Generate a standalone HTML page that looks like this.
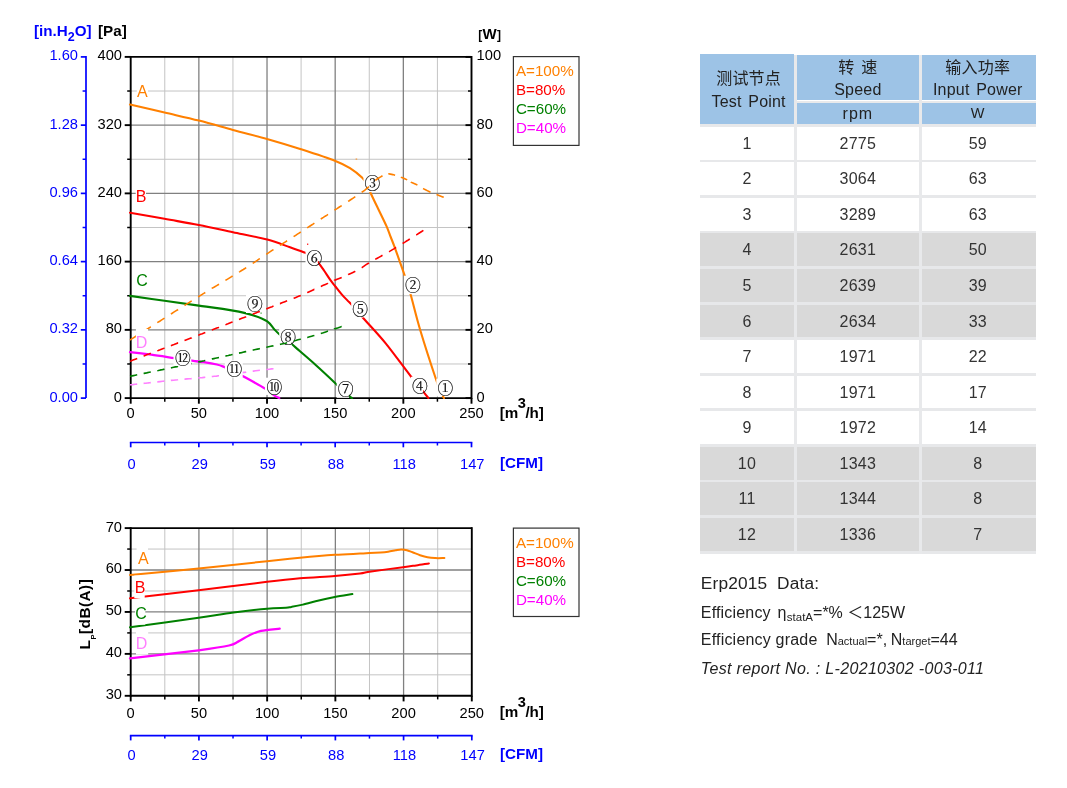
<!DOCTYPE html>
<html lang="zh">
<head>
<meta charset="utf-8">
<title>Performance curves</title>
<style>
html,body{margin:0;padding:0;background:#fff;}
body{width:1067px;height:788px;position:relative;overflow:hidden;font-family:"Liberation Sans","Noto Sans CJK SC",sans-serif;}
svg{position:absolute;left:0;top:0;}
svg text{font-family:"Liberation Sans",sans-serif;}
svg text.cn{font-family:"Liberation Serif","Noto Serif CJK SC",serif;font-size:15.8px;fill:#111;stroke:#111;stroke-width:0.22px;}
.tbl{position:absolute;left:0;top:0;width:1067px;height:788px;color:#333;}
.h{position:absolute;background:#9dc3e6;text-align:center;font-size:16px;line-height:21px;color:#222;letter-spacing:0.2px;word-spacing:2px;}
.r{position:absolute;left:699.8px;width:336.4px;height:32.9px;line-height:33px;font-size:16px;letter-spacing:0.23px;text-align:center;}
.r.g{background:#d9d9d9;}
.r span{position:absolute;top:0;height:100%;}
.c1{left:0;width:94.4px;}
.c2{left:97.2px;width:121.6px;}
.c3{left:221.8px;width:112.4px;}
.hs{position:absolute;left:699.8px;width:336.4px;background:#e7e8ea;height:2.8px;}
.vs{position:absolute;top:55px;height:498.6px;width:2.9px;background:#e8e9eb;}
.erp{position:absolute;left:700.8px;color:#222;white-space:nowrap;font-size:16px;line-height:22px;}
</style>
</head>
<body>
<svg width="640" height="788" viewBox="0 0 640 788">
<line x1="164.78" y1="56.90" x2="164.78" y2="398.10" stroke="#c4c4c4" stroke-width="1"/>
<line x1="232.94" y1="56.90" x2="232.94" y2="398.10" stroke="#c4c4c4" stroke-width="1"/>
<line x1="301.10" y1="56.90" x2="301.10" y2="398.10" stroke="#c4c4c4" stroke-width="1"/>
<line x1="369.26" y1="56.90" x2="369.26" y2="398.10" stroke="#c4c4c4" stroke-width="1"/>
<line x1="437.42" y1="56.90" x2="437.42" y2="398.10" stroke="#c4c4c4" stroke-width="1"/>
<line x1="130.70" y1="91.02" x2="471.50" y2="91.02" stroke="#c4c4c4" stroke-width="1"/>
<line x1="130.70" y1="159.26" x2="471.50" y2="159.26" stroke="#c4c4c4" stroke-width="1"/>
<line x1="130.70" y1="227.50" x2="471.50" y2="227.50" stroke="#c4c4c4" stroke-width="1"/>
<line x1="130.70" y1="295.74" x2="471.50" y2="295.74" stroke="#c4c4c4" stroke-width="1"/>
<line x1="130.70" y1="363.98" x2="471.50" y2="363.98" stroke="#c4c4c4" stroke-width="1"/>
<line x1="198.86" y1="56.90" x2="198.86" y2="398.10" stroke="#808080" stroke-width="1.3"/>
<line x1="267.02" y1="56.90" x2="267.02" y2="398.10" stroke="#808080" stroke-width="1.3"/>
<line x1="335.18" y1="56.90" x2="335.18" y2="398.10" stroke="#808080" stroke-width="1.3"/>
<line x1="403.34" y1="56.90" x2="403.34" y2="398.10" stroke="#808080" stroke-width="1.3"/>
<line x1="130.70" y1="125.14" x2="471.50" y2="125.14" stroke="#808080" stroke-width="1.3"/>
<line x1="130.70" y1="193.38" x2="471.50" y2="193.38" stroke="#808080" stroke-width="1.3"/>
<line x1="130.70" y1="261.62" x2="471.50" y2="261.62" stroke="#808080" stroke-width="1.3"/>
<line x1="130.70" y1="329.86" x2="471.50" y2="329.86" stroke="#808080" stroke-width="1.3"/>
<line x1="130.70" y1="56.90" x2="471.50" y2="56.90" stroke="#000" stroke-width="1.9"/>
<line x1="130.70" y1="398.10" x2="471.50" y2="398.10" stroke="#000" stroke-width="1.9"/>
<line x1="130.70" y1="55.95" x2="130.70" y2="399.05" stroke="#000" stroke-width="1.9"/>
<line x1="471.50" y1="55.95" x2="471.50" y2="399.05" stroke="#000" stroke-width="1.9"/>
<line x1="124.70" y1="56.90" x2="130.70" y2="56.90" stroke="#000" stroke-width="1.9"/>
<line x1="465.50" y1="56.90" x2="471.50" y2="56.90" stroke="#000" stroke-width="1.9"/>
<line x1="127.20" y1="91.02" x2="130.70" y2="91.02" stroke="#000" stroke-width="1.5"/>
<line x1="468.00" y1="91.02" x2="471.50" y2="91.02" stroke="#000" stroke-width="1.5"/>
<line x1="124.70" y1="125.14" x2="130.70" y2="125.14" stroke="#000" stroke-width="1.9"/>
<line x1="465.50" y1="125.14" x2="471.50" y2="125.14" stroke="#000" stroke-width="1.9"/>
<line x1="127.20" y1="159.26" x2="130.70" y2="159.26" stroke="#000" stroke-width="1.5"/>
<line x1="468.00" y1="159.26" x2="471.50" y2="159.26" stroke="#000" stroke-width="1.5"/>
<line x1="124.70" y1="193.38" x2="130.70" y2="193.38" stroke="#000" stroke-width="1.9"/>
<line x1="465.50" y1="193.38" x2="471.50" y2="193.38" stroke="#000" stroke-width="1.9"/>
<line x1="127.20" y1="227.50" x2="130.70" y2="227.50" stroke="#000" stroke-width="1.5"/>
<line x1="468.00" y1="227.50" x2="471.50" y2="227.50" stroke="#000" stroke-width="1.5"/>
<line x1="124.70" y1="261.62" x2="130.70" y2="261.62" stroke="#000" stroke-width="1.9"/>
<line x1="465.50" y1="261.62" x2="471.50" y2="261.62" stroke="#000" stroke-width="1.9"/>
<line x1="127.20" y1="295.74" x2="130.70" y2="295.74" stroke="#000" stroke-width="1.5"/>
<line x1="468.00" y1="295.74" x2="471.50" y2="295.74" stroke="#000" stroke-width="1.5"/>
<line x1="124.70" y1="329.86" x2="130.70" y2="329.86" stroke="#000" stroke-width="1.9"/>
<line x1="465.50" y1="329.86" x2="471.50" y2="329.86" stroke="#000" stroke-width="1.9"/>
<line x1="127.20" y1="363.98" x2="130.70" y2="363.98" stroke="#000" stroke-width="1.5"/>
<line x1="468.00" y1="363.98" x2="471.50" y2="363.98" stroke="#000" stroke-width="1.5"/>
<line x1="124.70" y1="398.10" x2="130.70" y2="398.10" stroke="#000" stroke-width="1.9"/>
<line x1="465.50" y1="398.10" x2="471.50" y2="398.10" stroke="#000" stroke-width="1.9"/>
<line x1="130.70" y1="398.10" x2="130.70" y2="403.70" stroke="#000" stroke-width="1.9"/>
<line x1="164.78" y1="398.10" x2="164.78" y2="401.70" stroke="#000" stroke-width="1.5"/>
<line x1="198.86" y1="398.10" x2="198.86" y2="403.70" stroke="#000" stroke-width="1.9"/>
<line x1="232.94" y1="398.10" x2="232.94" y2="401.70" stroke="#000" stroke-width="1.5"/>
<line x1="267.02" y1="398.10" x2="267.02" y2="403.70" stroke="#000" stroke-width="1.9"/>
<line x1="301.10" y1="398.10" x2="301.10" y2="401.70" stroke="#000" stroke-width="1.5"/>
<line x1="335.18" y1="398.10" x2="335.18" y2="403.70" stroke="#000" stroke-width="1.9"/>
<line x1="369.26" y1="398.10" x2="369.26" y2="401.70" stroke="#000" stroke-width="1.5"/>
<line x1="403.34" y1="398.10" x2="403.34" y2="403.70" stroke="#000" stroke-width="1.9"/>
<line x1="437.42" y1="398.10" x2="437.42" y2="401.70" stroke="#000" stroke-width="1.5"/>
<line x1="471.50" y1="398.10" x2="471.50" y2="403.70" stroke="#000" stroke-width="1.9"/>
<path d="M130.0,104.6 C135.8,105.9 153.0,109.8 164.5,112.5 C176.0,115.2 187.6,117.7 199.0,120.6 C210.4,123.5 221.7,126.9 233.0,130.0 C244.3,133.1 255.7,135.8 267.0,139.0 C278.3,142.2 289.6,145.6 301.0,149.3 C312.4,153.0 327.2,157.8 335.4,161.0 C343.6,164.2 345.6,165.4 350.0,168.2 C354.4,171.0 359.2,174.9 362.0,177.6 C364.8,180.3 365.6,182.0 367.0,184.5 C368.4,187.0 368.6,188.5 370.5,192.7 C372.4,196.9 375.8,203.9 378.5,209.5 C381.2,215.1 384.5,221.6 386.5,226.2 C388.5,230.8 389.3,233.4 390.7,237.0 C392.1,240.6 393.4,243.7 394.9,247.8 C396.4,251.9 398.2,257.1 399.8,261.7 C401.4,266.3 402.9,270.2 404.7,275.7 C406.5,281.2 408.1,285.8 410.7,294.8 C413.3,303.9 415.9,315.7 420.2,330.0 C424.5,344.3 432.9,370.1 436.4,380.5 C439.9,390.9 439.7,389.6 441.0,392.5 C442.3,395.4 443.5,397.1 444.0,398.0" fill="none" stroke="#ff8000" stroke-width="2.1" stroke-linecap="round"/>
<path d="M130.0,212.7 C135.8,213.7 153.0,216.8 164.5,218.8 C176.0,220.9 187.4,222.8 198.8,225.0 C210.2,227.2 221.6,229.8 233.0,232.2 C244.4,234.6 257.8,237.1 267.3,239.6 C276.8,242.1 283.6,245.1 290.0,247.3 C296.4,249.5 301.6,251.1 305.4,252.8 C309.2,254.5 310.9,255.9 313.0,257.5 C315.1,259.1 316.5,260.4 318.3,262.6 C320.1,264.8 322.0,267.6 324.0,270.5 C326.0,273.4 328.2,277.0 330.1,279.7 C332.0,282.4 333.5,284.1 335.4,286.5 C337.3,288.9 339.5,291.8 341.5,294.1 C343.5,296.5 345.9,298.8 347.6,300.6 C349.3,302.4 349.1,301.8 351.8,304.8 C354.5,307.8 357.9,312.0 363.6,318.5 C369.3,325.0 377.9,333.9 385.9,343.6 C393.8,353.4 405.1,369.0 411.3,377.0 C417.5,385.0 420.4,388.1 423.2,391.6 C426.0,395.1 427.5,396.9 428.4,398.0" fill="none" stroke="#ff0000" stroke-width="2.1" stroke-linecap="round"/>
<path d="M130.0,295.9 C135.8,296.7 153.0,299.2 164.5,300.8 C176.0,302.4 187.4,304.0 198.8,305.6 C210.2,307.2 223.9,309.0 233.0,310.6 C242.1,312.2 247.9,313.6 253.6,315.4 C259.3,317.2 263.9,319.1 267.3,321.4 C270.7,323.7 272.0,326.9 274.0,329.0 C276.0,331.1 277.0,332.2 279.3,334.2 C281.6,336.2 285.9,339.4 288.0,341.0 C290.1,342.6 289.7,342.3 291.7,344.0 C293.7,345.7 296.0,347.8 300.0,351.3 C304.0,354.8 309.6,359.5 315.7,365.0 C321.8,370.5 331.1,379.2 336.6,384.4 C342.2,389.5 346.4,393.6 349.0,395.9 C351.6,398.2 351.5,397.6 352.0,398.0" fill="none" stroke="#008000" stroke-width="2.1" stroke-linecap="round"/>
<path d="M130.0,352.1 C133.5,352.5 143.7,353.7 151.2,354.7 C158.7,355.7 168.1,357.2 174.9,358.2 C181.7,359.2 187.1,359.9 191.9,360.6 C196.7,361.3 199.5,361.6 203.7,362.2 C207.9,362.8 213.4,363.7 216.9,364.5 C220.4,365.3 222.0,366.1 224.7,367.2 C227.4,368.3 229.9,369.5 233.0,371.0 C236.1,372.5 237.8,373.4 243.1,376.3 C248.4,379.2 259.7,385.3 265.0,388.6 C270.3,391.9 272.6,394.3 275.0,395.9 C277.4,397.5 278.6,397.6 279.3,398.0" fill="none" stroke="#ff00ff" stroke-width="2.3" stroke-linecap="round"/>
<rect x="355.6" y="158.6" width="1.6" height="0.9" fill="#ff8000"/>
<rect x="307" y="243.6" width="1.3" height="1.2" fill="#ff0000"/>
<rect x="260.5" y="312.6" width="1.2" height="1" fill="#008000"/>
<rect x="436.3" y="378.6" width="12.3" height="17.3" fill="#fff"/>
<text class="cn" x="445.3" y="393.9" text-anchor="middle">①</text>
<rect x="403.9" y="275.7" width="12.3" height="18.4" fill="#fff"/>
<text class="cn" x="412.9" y="291.0" text-anchor="middle">②</text>
<rect x="363.5" y="173.7" width="12.3" height="18.4" fill="#fff"/>
<text class="cn" x="372.5" y="189.0" text-anchor="middle">③</text>
<rect x="410.8" y="376.8" width="12.3" height="18.4" fill="#fff"/>
<text class="cn" x="419.8" y="392.1" text-anchor="middle">④</text>
<rect x="351.2" y="299.2" width="12.3" height="18.4" fill="#fff"/>
<text class="cn" x="360.2" y="314.5" text-anchor="middle">⑤</text>
<rect x="305.5" y="248.2" width="12.3" height="18.4" fill="#fff"/>
<text class="cn" x="314.5" y="263.5" text-anchor="middle">⑥</text>
<rect x="336.7" y="379.4" width="12.3" height="18.4" fill="#fff"/>
<text class="cn" x="345.7" y="394.7" text-anchor="middle">⑦</text>
<rect x="279.2" y="328.0" width="12.3" height="18.4" fill="#fff"/>
<text class="cn" x="288.2" y="343.3" text-anchor="middle">⑧</text>
<rect x="246.0" y="294.6" width="12.3" height="18.4" fill="#fff"/>
<text class="cn" x="255.0" y="309.9" text-anchor="middle">⑨</text>
<path d="M130.0,384.9 L130.6,384.8 L132.7,384.6 L135.2,384.3 L137.2,384.1M143.6,383.4 L144.8,383.3 L146.0,383.2 L147.2,383.0 L148.4,382.9 L149.7,382.7 L150.8,382.6M157.3,381.9 L157.4,381.9 L160.0,381.6 L162.6,381.3 L164.5,381.1M170.9,380.5 L171.2,380.4 L173.4,380.2 L175.6,380.0 L177.7,379.8 L178.1,379.7M184.5,379.1 L185.0,379.1 L187.1,378.9 L189.1,378.7 L191.2,378.6 L191.7,378.5M198.2,377.9 L198.3,377.9 L200.3,377.7 L202.3,377.6 L204.3,377.4 L205.3,377.3M211.8,376.6 L212.4,376.5 L214.5,376.3 L216.5,376.1 L218.6,375.8 L219.0,375.8M225.4,375.0 L226.3,374.9 L228.5,374.6 L230.8,374.3 L232.6,374.0M239.0,373.1 L239.6,373.0 L241.8,372.7 L243.9,372.4 L245.9,372.2 L246.2,372.1M252.7,371.2 L253.3,371.1 L255.7,370.8 L257.9,370.5 L259.9,370.3M266.3,369.5 L266.7,369.5 L269.3,369.2 L271.5,368.9 L273.3,368.7 L273.5,368.7" fill="none" stroke="#ff80ff" stroke-width="1.6"/>
<path d="M130.0,376.3 L130.6,376.2 L132.0,375.9 L133.5,375.6 L135.3,375.2 L137.2,374.8M143.6,373.5 L144.1,373.4 L146.6,372.9 L149.2,372.3 L150.8,372.0M157.3,370.7 L158.3,370.5 L159.6,370.2 L160.9,369.9 L162.2,369.7 L163.5,369.4 L164.5,369.2M170.9,367.9 L171.6,367.7 L173.6,367.3 L175.4,366.9 L177.1,366.6 L178.1,366.3M184.5,365.0 L184.7,365.0 L187.0,364.5 L189.4,364.0 L191.7,363.4M198.2,362.1 L198.4,362.0 L200.1,361.6 L202.0,361.2 L204.0,360.8 L205.3,360.5M211.8,359.1 L212.5,358.9 L213.9,358.6 L215.2,358.3 L216.6,358.0 L218.0,357.7 L219.0,357.5M225.4,356.1 L226.8,355.8 L228.3,355.5 L229.8,355.1 L231.3,354.8 L232.6,354.5M239.0,353.1 L240.1,352.9 L241.6,352.6 L243.0,352.2 L244.4,351.9 L245.7,351.6 L246.2,351.5M252.7,350.1 L253.3,350.0 L255.5,349.5 L257.5,349.1 L259.4,348.7 L259.9,348.6M266.3,347.2 L266.4,347.2 L268.6,346.7 L270.8,346.3 L272.8,345.9 L273.5,345.7M279.9,344.4 L280.4,344.3 L283.0,343.7 L285.4,343.2 L287.1,342.8M293.6,341.0 L293.7,341.0 L295.6,340.5 L298.0,339.8 L300.4,339.2 L300.8,339.1M307.2,337.4 L307.4,337.4 L309.6,336.8 L311.7,336.2 L313.8,335.6 L314.4,335.4M320.8,333.4 L320.8,333.4 L323.3,332.7 L325.7,331.9 L328.0,331.1M334.5,329.0 L334.5,328.9 L338.3,327.7 L340.5,326.9 L341.6,326.6 L341.7,326.6" fill="none" stroke="#008000" stroke-width="1.6"/>
<path d="M130.0,361.2 L130.9,360.9 L133.0,360.1 L135.3,359.2 L137.2,358.5M143.6,356.0 L144.0,355.9 L145.6,355.3 L147.3,354.6 L149.0,354.0 L150.8,353.3 L150.8,353.3M157.3,350.8 L158.2,350.5 L160.1,349.8 L162.1,349.0 L164.0,348.3 L164.5,348.1M170.9,345.7 L172.0,345.2 L174.0,344.5 L176.0,343.7 L178.0,342.9 L178.1,342.9M184.5,340.5 L185.9,339.9 L187.8,339.2 L189.7,338.5 L191.6,337.8 L191.7,337.7M198.2,335.2 L198.8,335.0 L200.5,334.3 L202.3,333.7 L204.0,333.0 L205.3,332.5M211.8,330.0 L213.1,329.5 L214.9,328.8 L216.8,328.1 L218.6,327.4 L219.0,327.2M225.4,324.7 L226.1,324.5 L227.9,323.8 L229.8,323.0 L231.6,322.3 L232.6,322.0M239.0,319.5 L240.7,318.8 L242.5,318.1 L244.2,317.4 L246.0,316.8 L246.2,316.7M252.7,314.2 L252.7,314.2 L254.3,313.5 L255.9,312.9 L257.4,312.3 L259.0,311.7 L259.9,311.4M266.3,308.9 L267.3,308.5 L269.8,307.5 L272.1,306.7 L273.5,306.1M279.9,303.6 L280.0,303.6 L282.6,302.6 L284.9,301.7 L287.1,300.8M293.6,298.3 L293.9,298.2 L295.9,297.4 L297.9,296.6 L300.0,295.7 L300.8,295.4M307.2,292.6 L307.6,292.4 L309.8,291.4 L312.0,290.4 L314.2,289.4 L314.4,289.4M320.8,286.4 L321.3,286.2 L323.3,285.3 L325.4,284.4 L327.7,283.4 L328.0,283.2M334.5,280.5 L334.5,280.4 L337.1,279.3 L339.8,278.2 L341.7,277.4M348.1,274.6 L348.4,274.4 L350.7,273.4 L352.9,272.4 L354.8,271.5 L355.3,271.2M361.7,267.7 L361.9,267.6 L363.7,266.3 L365.7,264.9 L368.8,263.0 L368.9,262.9M375.3,259.3 L375.4,259.3 L377.3,258.2 L379.3,257.1 L381.3,256.0 L382.5,255.3M389.0,251.7 L389.6,251.4 L391.7,250.1 L393.8,248.9 L395.9,247.6 L396.2,247.5M402.6,243.5 L403.1,243.2 L404.9,242.1 L406.6,241.0 L408.3,240.0 L409.8,239.0M416.2,234.9 L416.5,234.8 L419.3,233.0 L421.7,231.5 L423.4,230.4" fill="none" stroke="#ff0000" stroke-width="1.6"/>
<path d="M130.0,340.0 L130.9,339.4 L133.0,338.1 L135.5,336.5 L137.2,335.4M143.6,331.4 L144.6,330.7 L146.4,329.6 L148.2,328.5 L150.0,327.3 L150.8,326.8M157.3,322.7 L157.7,322.4 L159.7,321.2 L161.7,319.9 L163.7,318.6 L164.5,318.1M170.9,314.1 L171.8,313.5 L173.8,312.2 L175.8,310.9 L177.8,309.7 L178.1,309.5M184.5,305.5 L185.5,304.8 L187.4,303.6 L189.2,302.5 L190.9,301.4 L191.7,300.9M198.2,296.9 L198.8,296.5 L200.2,295.6 L201.6,294.8 L202.9,293.9 L204.3,293.1 L205.3,292.5M211.8,288.5 L211.9,288.4 L214.4,287.0 L216.7,285.6 L219.0,284.2M225.4,280.4 L225.5,280.3 L227.6,279.1 L229.6,277.9 L231.6,276.7 L232.6,276.0M239.0,272.1 L239.9,271.6 L241.6,270.5 L243.3,269.5 L244.9,268.5 L246.2,267.6M252.7,263.4 L252.8,263.3 L255.0,261.8 L257.2,260.4 L259.3,258.9 L259.9,258.6M266.3,254.3 L266.6,254.1 L268.8,252.7 L271.0,251.2 L273.3,249.7 L273.5,249.6M279.9,245.4 L280.5,245.1 L282.2,244.0 L283.8,242.9 L285.5,241.8 L287.1,240.8M293.6,236.7 L294.0,236.4 L295.7,235.3 L297.4,234.2 L299.1,233.1 L300.8,232.0M307.2,227.9 L307.9,227.4 L309.7,226.2 L311.6,225.0 L313.4,223.9 L314.4,223.2M320.8,219.1 L321.6,218.5 L323.4,217.4 L325.2,216.2 L327.0,215.1 L328.0,214.4M334.5,210.2 L334.6,210.1 L337.0,208.6 L339.4,207.0 L341.7,205.6M348.1,201.4 L348.8,201.0 L351.0,199.5 L353.2,198.1 L355.3,196.7 L355.3,196.7M361.7,192.4 L362.0,192.1 L364.6,190.3 L366.6,188.6 L368.4,187.1 L368.9,186.6M375.3,180.3 L375.5,180.2 L378.3,178.3 L380.7,176.9 L382.5,175.8M388.3,173.7 L388.4,173.7 L390.4,174.1 L392.8,174.6 L395.1,175.2M400.9,177.1 L401.1,177.2 L403.2,178.0 L405.3,179.0 L407.2,179.9M410.8,182.1 L410.9,182.2 L412.9,183.1 L415.2,184.1 L417.4,185.1 L417.4,185.1M423.0,188.5 L423.2,188.6 L425.5,189.8 L428.1,191.1 L430.5,192.2M436.5,194.5 L436.7,194.6 L439.0,195.5 L441.5,196.5 L443.5,197.3 L443.7,197.4" fill="none" stroke="#ff8000" stroke-width="1.6"/>
<rect x="264.9" y="377.7" width="17.8" height="17.2" fill="#fff"/>
<text class="cn" x="274.4" y="392.7" text-anchor="middle">⑩</text>
<rect x="224.9" y="360.3" width="17.8" height="17.2" fill="#fff"/>
<text class="cn" x="234.4" y="375.3" text-anchor="middle">⑪</text>
<rect x="173.5" y="348.8" width="17.8" height="17.2" fill="#fff"/>
<text class="cn" x="183.0" y="363.8" text-anchor="middle">⑫</text>
<rect x="136.8" y="79.8" width="11.2" height="22.5" fill="#fff"/>
<text x="137.10" y="96.80" font-size="16" fill="#ff8000">A</text>
<rect x="135.7" y="185.0" width="10.3" height="22.5" fill="#fff"/>
<text x="135.80" y="202.00" font-size="16" fill="#ff0000">B</text>
<rect x="135.8" y="268.8" width="11.2" height="22.5" fill="#fff"/>
<text x="136.20" y="285.80" font-size="16" fill="#008000">C</text>
<rect x="135.9" y="329.0" width="12.2" height="21.8" fill="#fff"/>
<text x="135.80" y="347.90" font-size="16" fill="#ff80ff">D</text>
<text x="122.00" y="60.30" font-size="14.67" text-anchor="end">400</text>
<text x="476.60" y="60.30" font-size="14.67">100</text>
<text x="122.00" y="128.54" font-size="14.67" text-anchor="end">320</text>
<text x="476.60" y="128.54" font-size="14.67">80</text>
<text x="122.00" y="196.78" font-size="14.67" text-anchor="end">240</text>
<text x="476.60" y="196.78" font-size="14.67">60</text>
<text x="122.00" y="265.02" font-size="14.67" text-anchor="end">160</text>
<text x="476.60" y="265.02" font-size="14.67">40</text>
<text x="122.00" y="333.26" font-size="14.67" text-anchor="end">80</text>
<text x="476.60" y="333.26" font-size="14.67">20</text>
<text x="122.00" y="401.50" font-size="14.67" text-anchor="end">0</text>
<text x="476.60" y="401.50" font-size="14.67">0</text>
<text x="130.70" y="418.20" font-size="14.67" text-anchor="middle">0</text>
<text x="198.86" y="418.20" font-size="14.67" text-anchor="middle">50</text>
<text x="267.02" y="418.20" font-size="14.67" text-anchor="middle">100</text>
<text x="335.18" y="418.20" font-size="14.67" text-anchor="middle">150</text>
<text x="403.34" y="418.20" font-size="14.67" text-anchor="middle">200</text>
<text x="471.50" y="418.20" font-size="14.67" text-anchor="middle">250</text>
<text x="499.80" y="418.00" font-size="15.2" font-weight="bold">[m<tspan dy="-10.1" dx="-0.6" font-size="14.6">3</tspan><tspan dy="10.1" dx="-0.5">/h]</tspan></text>
<text x="98.00" y="35.80" font-size="15.2" font-weight="bold">[Pa]</text>
<text x="478.3" y="38.9" font-size="12" font-weight="bold">[<tspan font-size="15" dx="0.2">W</tspan><tspan dx="0.4">]</tspan></text>
<text x="34.00" y="35.80" font-size="15.2" fill="#0000ff" font-weight="bold">[in.H<tspan dy="5.2" font-size="12.5">2</tspan><tspan dy="-5.2">O]</tspan></text>
<line x1="86.00" y1="56.05" x2="86.00" y2="398.10" stroke="#0000ff" stroke-width="1.7"/>
<line x1="80.80" y1="56.90" x2="86.00" y2="56.90" stroke="#0000ff" stroke-width="1.7"/>
<line x1="82.60" y1="91.02" x2="86.00" y2="91.02" stroke="#0000ff" stroke-width="1.5"/>
<line x1="80.80" y1="125.14" x2="86.00" y2="125.14" stroke="#0000ff" stroke-width="1.7"/>
<line x1="82.60" y1="159.26" x2="86.00" y2="159.26" stroke="#0000ff" stroke-width="1.5"/>
<line x1="80.80" y1="193.38" x2="86.00" y2="193.38" stroke="#0000ff" stroke-width="1.7"/>
<line x1="82.60" y1="227.50" x2="86.00" y2="227.50" stroke="#0000ff" stroke-width="1.5"/>
<line x1="80.80" y1="261.62" x2="86.00" y2="261.62" stroke="#0000ff" stroke-width="1.7"/>
<line x1="82.60" y1="295.74" x2="86.00" y2="295.74" stroke="#0000ff" stroke-width="1.5"/>
<line x1="80.80" y1="329.86" x2="86.00" y2="329.86" stroke="#0000ff" stroke-width="1.7"/>
<line x1="82.60" y1="363.98" x2="86.00" y2="363.98" stroke="#0000ff" stroke-width="1.5"/>
<line x1="80.80" y1="398.10" x2="86.00" y2="398.10" stroke="#0000ff" stroke-width="1.7"/>
<text x="78.00" y="60.30" font-size="14.67" fill="#0000ff" text-anchor="end">1.60</text>
<text x="78.00" y="128.54" font-size="14.67" fill="#0000ff" text-anchor="end">1.28</text>
<text x="78.00" y="196.78" font-size="14.67" fill="#0000ff" text-anchor="end">0.96</text>
<text x="78.00" y="265.02" font-size="14.67" fill="#0000ff" text-anchor="end">0.64</text>
<text x="78.00" y="333.26" font-size="14.67" fill="#0000ff" text-anchor="end">0.32</text>
<text x="78.00" y="401.50" font-size="14.67" fill="#0000ff" text-anchor="end">0.00</text>
<line x1="129.85" y1="442.50" x2="472.35" y2="442.50" stroke="#0000ff" stroke-width="1.7"/>
<line x1="130.70" y1="442.50" x2="130.70" y2="447.30" stroke="#0000ff" stroke-width="1.7"/>
<line x1="164.78" y1="442.50" x2="164.78" y2="445.50" stroke="#0000ff" stroke-width="1.5"/>
<line x1="198.86" y1="442.50" x2="198.86" y2="447.30" stroke="#0000ff" stroke-width="1.7"/>
<line x1="232.94" y1="442.50" x2="232.94" y2="445.50" stroke="#0000ff" stroke-width="1.5"/>
<line x1="267.02" y1="442.50" x2="267.02" y2="447.30" stroke="#0000ff" stroke-width="1.7"/>
<line x1="301.10" y1="442.50" x2="301.10" y2="445.50" stroke="#0000ff" stroke-width="1.5"/>
<line x1="335.18" y1="442.50" x2="335.18" y2="447.30" stroke="#0000ff" stroke-width="1.7"/>
<line x1="369.26" y1="442.50" x2="369.26" y2="445.50" stroke="#0000ff" stroke-width="1.5"/>
<line x1="403.34" y1="442.50" x2="403.34" y2="447.30" stroke="#0000ff" stroke-width="1.7"/>
<line x1="437.42" y1="442.50" x2="437.42" y2="445.50" stroke="#0000ff" stroke-width="1.5"/>
<line x1="471.50" y1="442.50" x2="471.50" y2="447.30" stroke="#0000ff" stroke-width="1.7"/>
<text x="131.50" y="469.00" font-size="14.67" fill="#0000ff" text-anchor="middle">0</text>
<text x="199.66" y="469.00" font-size="14.67" fill="#0000ff" text-anchor="middle">29</text>
<text x="267.82" y="469.00" font-size="14.67" fill="#0000ff" text-anchor="middle">59</text>
<text x="335.98" y="469.00" font-size="14.67" fill="#0000ff" text-anchor="middle">88</text>
<text x="404.14" y="469.00" font-size="14.67" fill="#0000ff" text-anchor="middle">118</text>
<text x="472.30" y="469.00" font-size="14.67" fill="#0000ff" text-anchor="middle">147</text>
<text x="500.00" y="468.00" font-size="15.2" fill="#0000ff" font-weight="bold">[CFM]</text>
<rect x="513.4" y="56.6" width="65.6" height="88.8" fill="#fff" stroke="#333" stroke-width="1.2"/>
<text x="515.90" y="76.20" font-size="15.2" fill="#ff8000">A=100%</text>
<text x="515.90" y="95.15" font-size="15.2" fill="#ff0000">B=80%</text>
<text x="515.90" y="114.10" font-size="15.2" fill="#008000">C=60%</text>
<text x="515.90" y="133.05" font-size="15.2" fill="#ff00ff">D=40%</text>
<line x1="164.81" y1="528.10" x2="164.81" y2="695.80" stroke="#c4c4c4" stroke-width="1"/>
<line x1="233.03" y1="528.10" x2="233.03" y2="695.80" stroke="#c4c4c4" stroke-width="1"/>
<line x1="301.25" y1="528.10" x2="301.25" y2="695.80" stroke="#c4c4c4" stroke-width="1"/>
<line x1="369.47" y1="528.10" x2="369.47" y2="695.80" stroke="#c4c4c4" stroke-width="1"/>
<line x1="437.69" y1="528.10" x2="437.69" y2="695.80" stroke="#c4c4c4" stroke-width="1"/>
<line x1="130.70" y1="549.06" x2="471.80" y2="549.06" stroke="#c4c4c4" stroke-width="1"/>
<line x1="130.70" y1="590.99" x2="471.80" y2="590.99" stroke="#c4c4c4" stroke-width="1"/>
<line x1="130.70" y1="632.91" x2="471.80" y2="632.91" stroke="#c4c4c4" stroke-width="1"/>
<line x1="130.70" y1="674.84" x2="471.80" y2="674.84" stroke="#c4c4c4" stroke-width="1"/>
<line x1="198.92" y1="528.10" x2="198.92" y2="695.80" stroke="#808080" stroke-width="1.3"/>
<line x1="267.14" y1="528.10" x2="267.14" y2="695.80" stroke="#808080" stroke-width="1.3"/>
<line x1="335.36" y1="528.10" x2="335.36" y2="695.80" stroke="#808080" stroke-width="1.3"/>
<line x1="403.58" y1="528.10" x2="403.58" y2="695.80" stroke="#808080" stroke-width="1.3"/>
<line x1="130.70" y1="570.02" x2="471.80" y2="570.02" stroke="#808080" stroke-width="1.3"/>
<line x1="130.70" y1="611.95" x2="471.80" y2="611.95" stroke="#808080" stroke-width="1.3"/>
<line x1="130.70" y1="653.88" x2="471.80" y2="653.88" stroke="#808080" stroke-width="1.3"/>
<line x1="130.70" y1="528.10" x2="471.80" y2="528.10" stroke="#000" stroke-width="1.9"/>
<line x1="130.70" y1="695.80" x2="471.80" y2="695.80" stroke="#000" stroke-width="1.9"/>
<line x1="130.70" y1="527.15" x2="130.70" y2="696.75" stroke="#000" stroke-width="1.9"/>
<line x1="471.80" y1="527.15" x2="471.80" y2="696.75" stroke="#000" stroke-width="1.9"/>
<line x1="124.70" y1="528.10" x2="130.70" y2="528.10" stroke="#000" stroke-width="1.9"/>
<line x1="127.20" y1="549.06" x2="130.70" y2="549.06" stroke="#000" stroke-width="1.5"/>
<line x1="124.70" y1="570.02" x2="130.70" y2="570.02" stroke="#000" stroke-width="1.9"/>
<line x1="127.20" y1="590.99" x2="130.70" y2="590.99" stroke="#000" stroke-width="1.5"/>
<line x1="124.70" y1="611.95" x2="130.70" y2="611.95" stroke="#000" stroke-width="1.9"/>
<line x1="127.20" y1="632.91" x2="130.70" y2="632.91" stroke="#000" stroke-width="1.5"/>
<line x1="124.70" y1="653.88" x2="130.70" y2="653.88" stroke="#000" stroke-width="1.9"/>
<line x1="127.20" y1="674.84" x2="130.70" y2="674.84" stroke="#000" stroke-width="1.5"/>
<line x1="124.70" y1="695.80" x2="130.70" y2="695.80" stroke="#000" stroke-width="1.9"/>
<line x1="130.70" y1="695.80" x2="130.70" y2="701.40" stroke="#000" stroke-width="1.9"/>
<line x1="164.81" y1="695.80" x2="164.81" y2="699.40" stroke="#000" stroke-width="1.5"/>
<line x1="198.92" y1="695.80" x2="198.92" y2="701.40" stroke="#000" stroke-width="1.9"/>
<line x1="233.03" y1="695.80" x2="233.03" y2="699.40" stroke="#000" stroke-width="1.5"/>
<line x1="267.14" y1="695.80" x2="267.14" y2="701.40" stroke="#000" stroke-width="1.9"/>
<line x1="301.25" y1="695.80" x2="301.25" y2="699.40" stroke="#000" stroke-width="1.5"/>
<line x1="335.36" y1="695.80" x2="335.36" y2="701.40" stroke="#000" stroke-width="1.9"/>
<line x1="369.47" y1="695.80" x2="369.47" y2="699.40" stroke="#000" stroke-width="1.5"/>
<line x1="403.58" y1="695.80" x2="403.58" y2="701.40" stroke="#000" stroke-width="1.9"/>
<line x1="437.69" y1="695.80" x2="437.69" y2="699.40" stroke="#000" stroke-width="1.5"/>
<line x1="471.80" y1="695.80" x2="471.80" y2="701.40" stroke="#000" stroke-width="1.9"/>
<path d="M130.0,575.0 C141.4,573.9 175.8,570.8 198.6,568.5 C221.4,566.2 250.2,563.0 267.1,561.2 C284.0,559.4 288.7,558.9 300.0,557.8 C311.3,556.7 324.8,555.5 334.8,554.8 C344.8,554.1 354.2,553.9 360.0,553.6 C365.8,553.3 366.0,553.1 369.4,552.9 C372.8,552.7 377.5,552.7 380.6,552.5 C383.7,552.3 385.6,552.1 388.1,551.7 C390.6,551.3 393.4,550.7 395.6,550.3 C397.8,549.9 399.3,549.5 401.2,549.5 C403.1,549.5 405.0,549.7 406.9,550.2 C408.8,550.7 410.3,551.5 412.5,552.3 C414.7,553.1 417.5,554.4 420.0,555.2 C422.5,556.0 425.0,556.8 427.5,557.3 C430.0,557.8 432.2,558.0 435.0,558.1 C437.8,558.2 442.8,558.1 444.4,558.1" fill="none" stroke="#ff8000" stroke-width="2.0" stroke-linecap="round"/>
<path d="M130.0,598.3 C141.4,596.9 175.8,593.0 198.6,590.2 C221.4,587.5 250.2,583.8 267.1,581.8 C284.0,579.8 288.7,579.3 300.0,578.3 C311.3,577.3 324.8,576.8 334.8,576.0 C344.8,575.2 354.2,574.2 360.0,573.5 C365.8,572.8 362.2,572.8 369.4,571.7 C376.6,570.7 395.3,568.2 403.1,567.2 C410.9,566.2 411.9,566.0 416.2,565.4 C420.5,564.8 426.8,563.7 428.9,563.4" fill="none" stroke="#ff0000" stroke-width="2.0" stroke-linecap="round"/>
<path d="M130.0,627.3 C141.4,625.7 181.3,620.2 198.6,617.8 C215.9,615.3 222.2,614.1 233.6,612.6 C245.0,611.1 258.4,609.5 267.1,608.7 C275.8,607.9 281.9,608.1 286.0,607.8 C290.1,607.5 288.6,607.4 291.4,606.9 C294.2,606.4 298.2,605.7 302.8,604.6 C307.4,603.5 313.5,601.8 318.8,600.5 C324.1,599.2 329.2,598.1 334.8,597.0 C340.4,595.9 349.5,594.6 352.4,594.1" fill="none" stroke="#008000" stroke-width="2.0" stroke-linecap="round"/>
<path d="M130.0,658.4 C141.4,657.0 182.1,652.4 198.6,650.3 C215.1,648.1 222.4,647.0 229.0,645.5 C235.6,644.0 234.7,643.3 238.1,641.6 C241.5,639.9 245.7,637.0 249.5,635.2 C253.3,633.4 256.0,632.0 261.0,630.9 C266.0,629.8 276.6,629.0 279.7,628.6" fill="none" stroke="#ff00ff" stroke-width="2.3" stroke-linecap="round"/>
<rect x="136.6" y="546.5" width="11.4" height="22.5" fill="#fff"/>
<text x="137.90" y="563.50" font-size="16" fill="#ff8000">A</text>
<rect x="134.3" y="575.6" width="10.4" height="22.5" fill="#fff"/>
<text x="134.80" y="592.60" font-size="16" fill="#ff0000">B</text>
<rect x="135.1" y="602.2" width="10.2" height="22.5" fill="#fff"/>
<text x="135.20" y="619.20" font-size="16" fill="#008000">C</text>
<rect x="136.0" y="631.8" width="12.2" height="22.8" fill="#fff"/>
<text x="135.70" y="648.70" font-size="16" fill="#ff80ff">D</text>
<text x="122.00" y="531.50" font-size="14.67" text-anchor="end">70</text>
<text x="122.00" y="573.42" font-size="14.67" text-anchor="end">60</text>
<text x="122.00" y="615.35" font-size="14.67" text-anchor="end">50</text>
<text x="122.00" y="657.27" font-size="14.67" text-anchor="end">40</text>
<text x="122.00" y="699.20" font-size="14.67" text-anchor="end">30</text>
<text x="130.70" y="717.50" font-size="14.67" text-anchor="middle">0</text>
<text x="198.92" y="717.50" font-size="14.67" text-anchor="middle">50</text>
<text x="267.14" y="717.50" font-size="14.67" text-anchor="middle">100</text>
<text x="335.36" y="717.50" font-size="14.67" text-anchor="middle">150</text>
<text x="403.58" y="717.50" font-size="14.67" text-anchor="middle">200</text>
<text x="471.80" y="717.50" font-size="14.67" text-anchor="middle">250</text>
<text x="499.80" y="717.20" font-size="15.2" font-weight="bold">[m<tspan dy="-10.1" dx="-0.6" font-size="14.6">3</tspan><tspan dy="10.1" dx="-0.5">/h]</tspan></text>
<line x1="129.85" y1="735.60" x2="472.65" y2="735.60" stroke="#0000ff" stroke-width="1.7"/>
<line x1="130.70" y1="735.60" x2="130.70" y2="740.40" stroke="#0000ff" stroke-width="1.7"/>
<line x1="164.81" y1="735.60" x2="164.81" y2="738.60" stroke="#0000ff" stroke-width="1.5"/>
<line x1="198.92" y1="735.60" x2="198.92" y2="740.40" stroke="#0000ff" stroke-width="1.7"/>
<line x1="233.03" y1="735.60" x2="233.03" y2="738.60" stroke="#0000ff" stroke-width="1.5"/>
<line x1="267.14" y1="735.60" x2="267.14" y2="740.40" stroke="#0000ff" stroke-width="1.7"/>
<line x1="301.25" y1="735.60" x2="301.25" y2="738.60" stroke="#0000ff" stroke-width="1.5"/>
<line x1="335.36" y1="735.60" x2="335.36" y2="740.40" stroke="#0000ff" stroke-width="1.7"/>
<line x1="369.47" y1="735.60" x2="369.47" y2="738.60" stroke="#0000ff" stroke-width="1.5"/>
<line x1="403.58" y1="735.60" x2="403.58" y2="740.40" stroke="#0000ff" stroke-width="1.7"/>
<line x1="437.69" y1="735.60" x2="437.69" y2="738.60" stroke="#0000ff" stroke-width="1.5"/>
<line x1="471.80" y1="735.60" x2="471.80" y2="740.40" stroke="#0000ff" stroke-width="1.7"/>
<text x="131.50" y="759.60" font-size="14.67" fill="#0000ff" text-anchor="middle">0</text>
<text x="199.72" y="759.60" font-size="14.67" fill="#0000ff" text-anchor="middle">29</text>
<text x="267.94" y="759.60" font-size="14.67" fill="#0000ff" text-anchor="middle">59</text>
<text x="336.16" y="759.60" font-size="14.67" fill="#0000ff" text-anchor="middle">88</text>
<text x="404.38" y="759.60" font-size="14.67" fill="#0000ff" text-anchor="middle">118</text>
<text x="472.60" y="759.60" font-size="14.67" fill="#0000ff" text-anchor="middle">147</text>
<text x="500.00" y="758.60" font-size="15.2" fill="#0000ff" font-weight="bold">[CFM]</text>
<rect x="513.4" y="528.1" width="65.6" height="88.4" fill="#fff" stroke="#333" stroke-width="1.2"/>
<text x="515.90" y="547.70" font-size="15.2" fill="#ff8000">A=100%</text>
<text x="515.90" y="566.65" font-size="15.2" fill="#ff0000">B=80%</text>
<text x="515.90" y="585.60" font-size="15.2" fill="#008000">C=60%</text>
<text x="515.90" y="604.55" font-size="15.2" fill="#ff00ff">D=40%</text>
<text transform="translate(89.8,649.4) rotate(-90)" font-size="15.4" letter-spacing="0.45" font-weight="bold">L<tspan dy="6" font-size="7.6">P</tspan><tspan dy="-6">[dB(A)]</tspan></text>
</svg>
<div class="tbl">
<div class="h" style="left:699.8px;top:54.1px;width:94.3px;height:69.7px;"><div style="margin-top:14.3px;position:relative;left:1.7px;line-height:22.2px">测试节点<br>Test Point</div></div>
<div class="h" style="left:797.1px;top:55.3px;width:121.6px;height:45px;"><div style="margin-top:1.8px;line-height:21.7px">转 速<br>Speed</div></div>
<div class="h" style="left:921.7px;top:55.3px;width:114.5px;height:45px;"><div style="margin-top:1.8px;line-height:21.7px;position:relative;left:-1.2px">输入功率<br>Input Power</div></div>
<div class="hs" style="top:100.5px;left:797.1px;width:239.1px;background:#e8e9eb"></div>
<div class="h" style="left:797.1px;top:103.1px;width:121.6px;height:20.7px;"><div style="margin-top:-0.2px;letter-spacing:1px">rpm</div></div>
<div class="h" style="left:921.7px;top:103.1px;width:114.5px;height:20.7px;"><div style="margin-top:-0.2px;position:relative;left:-1.2px;font-size:14.5px">W</div></div>
<div class="r" style="top:126.80px"><span class="c1">1</span><span class="c2">2775</span><span class="c3">59</span></div>
<div class="r" style="top:162.36px"><span class="c1">2</span><span class="c2">3064</span><span class="c3">63</span></div>
<div class="r" style="top:197.92px"><span class="c1">3</span><span class="c2">3289</span><span class="c3">63</span></div>
<div class="r g" style="top:233.48px"><span class="c1">4</span><span class="c2">2631</span><span class="c3">50</span></div>
<div class="r g" style="top:269.04px"><span class="c1">5</span><span class="c2">2639</span><span class="c3">39</span></div>
<div class="r g" style="top:304.60px"><span class="c1">6</span><span class="c2">2634</span><span class="c3">33</span></div>
<div class="r" style="top:340.16px"><span class="c1">7</span><span class="c2">1971</span><span class="c3">22</span></div>
<div class="r" style="top:375.72px"><span class="c1">8</span><span class="c2">1971</span><span class="c3">17</span></div>
<div class="r" style="top:411.28px"><span class="c1">9</span><span class="c2">1972</span><span class="c3">14</span></div>
<div class="r g" style="top:446.84px"><span class="c1">10</span><span class="c2">1343</span><span class="c3">8</span></div>
<div class="r g" style="top:482.40px"><span class="c1">11</span><span class="c2">1344</span><span class="c3">8</span></div>
<div class="r g" style="top:517.96px"><span class="c1">12</span><span class="c2">1336</span><span class="c3">7</span></div>
<div class="hs" style="top:124.00px"></div>
<div class="hs" style="top:159.56px"></div>
<div class="hs" style="top:195.12px"></div>
<div class="hs" style="top:230.68px"></div>
<div class="hs" style="top:266.24px"></div>
<div class="hs" style="top:301.80px"></div>
<div class="hs" style="top:337.36px"></div>
<div class="hs" style="top:372.92px"></div>
<div class="hs" style="top:408.48px"></div>
<div class="hs" style="top:444.04px"></div>
<div class="hs" style="top:479.60px"></div>
<div class="hs" style="top:515.16px"></div>
<div class="hs" style="top:550.72px"></div>
<div class="vs" style="left:794.1px"></div>
<div class="vs" style="left:918.8px"></div>
</div>
<div class="erp" style="top:571.9px;font-size:17.3px;letter-spacing:0.15px;">Erp2015&nbsp; Data:</div>
<div class="erp" style="top:601.9px;"><span style="letter-spacing:0.18px">Efficiency</span> <span style="margin-left:2.2px">η</span><span style="font-size:11.5px;position:relative;top:3.5px;margin-left:0.5px">statA</span>=*% ＜125W</div>
<div class="erp" style="top:628.9px;"><span style="letter-spacing:0.2px">Efficiency grade</span> <span style="margin-left:4.2px">N</span><span style="font-size:11px">actual</span>=*, <span style="margin-left:-0.8px">N</span><span style="font-size:11px">target</span>=44</div>
<div class="erp" style="top:658px;font-style:italic;letter-spacing:0.33px;">Test report No. : L-20210302 -003-011</div>
</body>
</html>
